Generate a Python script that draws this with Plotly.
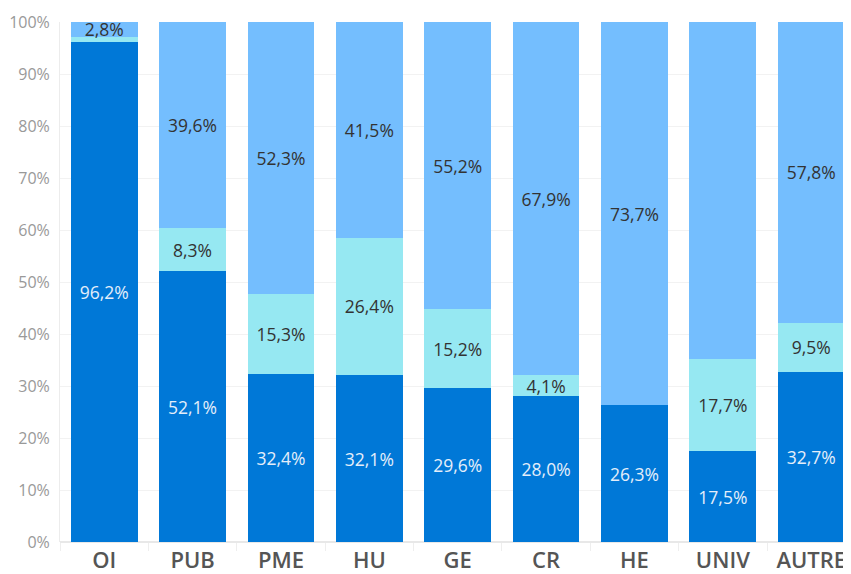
import plotly.graph_objects as go

categories = ["OI", "PUB", "PME", "HU", "GE", "CR", "HE", "UNIV", "AUTRE"]
bottom_vals = [96.2, 52.1, 32.4, 32.1, 29.6, 28.0, 26.3, 17.5, 32.7]
middle_vals = [1.0, 8.3, 15.3, 26.4, 15.2, 4.1, 0.0, 17.7, 9.5]
top_vals = [2.8, 39.6, 52.3, 41.5, 55.2, 67.9, 73.7, 64.9, 57.8]
y_ticks = [0, 10, 20, 30, 40, 50, 60, 70, 80, 90, 100]
y_tick_labels = [f"{t}%" for t in y_ticks]


def lab(vals):
    return [(f"{v:.1f}".replace(".", ",") + "%") if v >= 2 else "" for v in vals]


FONT = "Open Sans"
fig = go.Figure()
series = [
    (bottom_vals, "#0078d7", "#e4eefa"),
    (middle_vals, "#96e8f2", "#333333"),
    (top_vals, "#74befe", "#333333"),
]
for vals, col, tcol in series:
    fig.add_trace(go.Bar(
        x=categories, y=vals, marker=dict(color=col, line=dict(width=0)),
        text=lab(vals), textposition="inside", insidetextanchor="middle",
        textangle=0, textfont=dict(family=FONT, size=17.5, color=tcol),
        cliponaxis=False, width=0.755, hoverinfo="skip",
    ))

# page body has an 8px default margin: size the figure so it fills 851x574
fig.update_layout(
    barmode="stack", width=843, height=566,
    margin=dict(l=52, r=0, t=14, b=32, autoexpand=False),
    paper_bgcolor="white", plot_bgcolor="white", showlegend=False,
    uniformtext=dict(minsize=17, mode="show"),
    font=dict(family=FONT),
)
fig.update_xaxes(
    range=[-0.5, 8.45], showgrid=False, showline=False,
    tickfont=dict(family=FONT, size=22, color="#555555", weight=600),
    ticks="outside", tickson="boundaries", ticklen=8, tickcolor="#eeeeee",
    ticklabelstandoff=3, automargin=False,
)
fig.update_yaxes(
    range=[0, 100], tickvals=y_ticks, ticktext=y_tick_labels,
    showgrid=True, gridcolor="#f2f2f2", gridwidth=1,
    zeroline=True, zerolinecolor="#e8e8e8",
    showline=True, linecolor="#ececec", linewidth=1,
    tickfont=dict(family=FONT, size=16, color="#999999"),
    ticks="", ticklabelstandoff=6, automargin=False,
)
fig.write_html("out.html")
